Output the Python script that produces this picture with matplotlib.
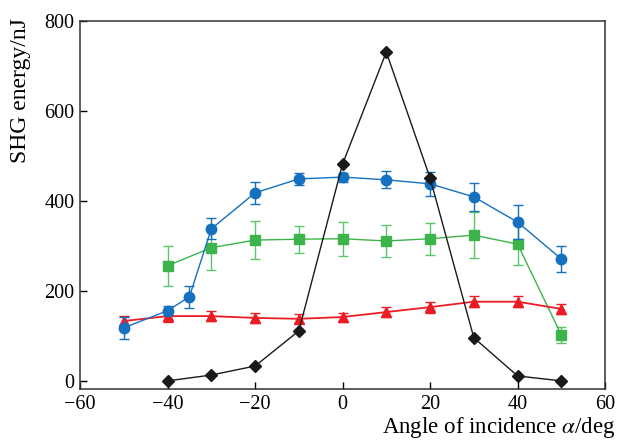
import numpy as np
import matplotlib.pyplot as plt

plt.rcParams['font.family'] = 'Liberation Serif'
plt.rcParams['mathtext.fontset'] = 'stix'

# Blue circles
x_blue = [-50, -40, -35, -30, -20, -10, 0, 10, 20, 30, 40, 50]
y_blue = [118, 156, 187, 338, 418, 449, 453, 447, 438, 409, 353, 271]
e_blue = [24, 10, 25, 23, 25, 14, 10, 19, 27, 32, 37, 28]

# Green squares
x_green = [-40, -30, -20, -10, 0, 10, 20, 30, 40, 50]
y_green = [256, 296, 313, 315, 316, 311, 316, 324, 304, 102]
e_green = [44, 50, 43, 30, 38, 35, 36, 51, 47, 17]

# Red triangles
x_red = [-50, -40, -30, -20, -10, 0, 10, 20, 30, 40, 50]
y_red = [133, 144, 144, 140, 138, 142, 153, 164, 176, 176, 160]
e_red = [12, 12, 11, 11, 10, 10, 11, 12, 12, 12, 12]

# Black diamonds
x_black = [-40, -30, -20, -10, 0, 10, 20, 30, 40, 50]
y_black = [0, 13, 33, 111, 482, 731, 451, 96, 11, 0]

fig = plt.figure(figsize=(6.17, 4.44), dpi=100)
ax = fig.add_axes([0.1297, 0.1239, 0.851, 0.8288])

ax.errorbar(x_green, y_green, yerr=e_green, color='#3cb44b', marker='s', ms=7,
            lw=1.0, capsize=3.5, elinewidth=1.0, ecolor='#5cc46a', zorder=3)
ax.errorbar(x_red, y_red, yerr=e_red, color='#ec1c24', marker='^', ms=7.5,
            lw=1.3, capsize=3.5, elinewidth=1.0, zorder=4)
ax.errorbar(x_blue, y_blue, yerr=e_blue, color='#1570bf', marker='o', ms=7.5,
            lw=1.0, capsize=3.5, elinewidth=1.0, zorder=5)
ax.plot(x_black, y_black, color='#1a1a1a', marker='D', ms=6.5, lw=1.0, zorder=6)

ax.set_xlim(-60, 60)
ax.set_ylim(-18, 800)
ax.set_xticks(np.arange(-60, 61, 20))
ax.set_yticks(np.arange(0, 801, 200))
ax.set_xticklabels(['\u221260', '\u221240', '\u221220', '0', '20', '40', '60'])
ax.tick_params(direction='in', length=5, width=1.0, labelsize=14.5, pad=4)
for s in ax.spines.values():
    s.set_linewidth(1.1)
    s.set_color('#333333')

fig.text(0.033, 0.795, 'SHG energy/nJ', fontsize=17, rotation=90,
         ha='center', va='center')
fig.text(0.997, 0.008, r'Angle of incidence $\alpha$/deg', fontsize=16.5,
         ha='right', va='bottom')

fig.savefig('out.png', dpi=100)
